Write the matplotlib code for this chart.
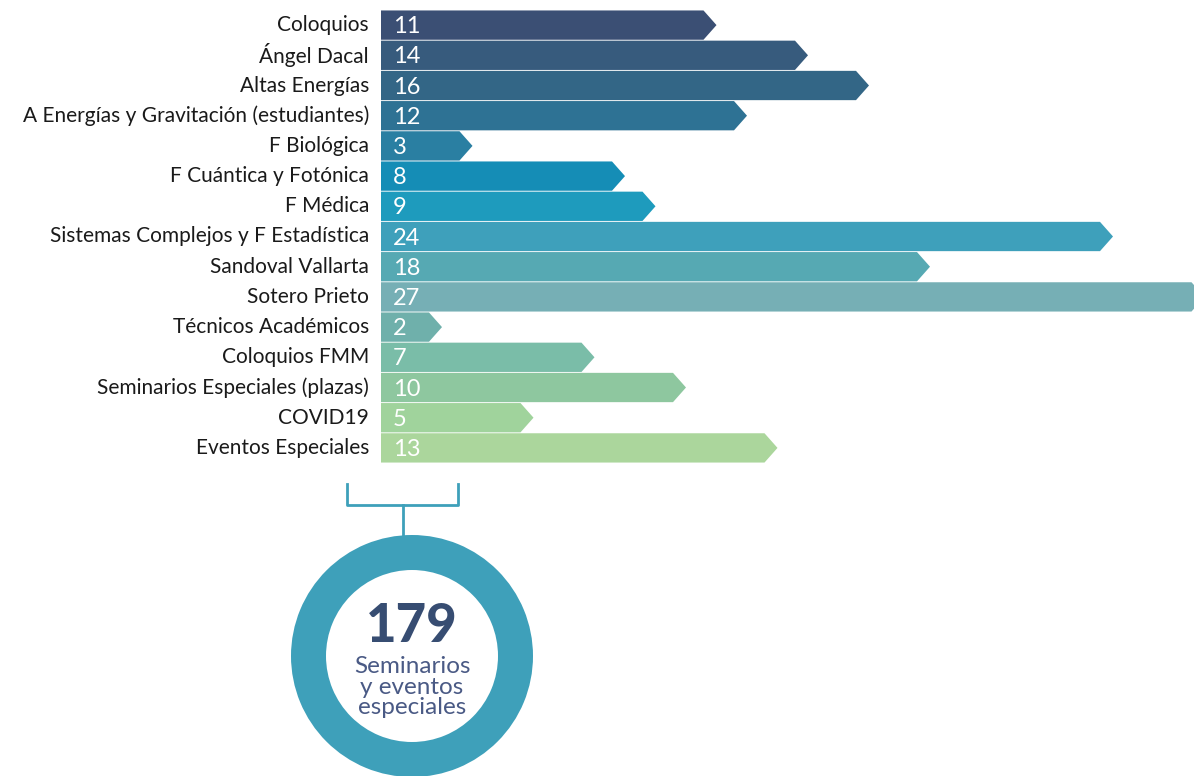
import matplotlib
matplotlib.use('Agg')
import matplotlib.pyplot as plt
from matplotlib.patches import Polygon, Wedge

categories = ['Coloquios', 'Ángel Dacal', 'Altas Energías',
              'A Energías y Gravitación (estudiantes)', 'F Biológica',
              'F Cuántica y Fotónica', 'F Médica',
              'Sistemas Complejos y F Estadística', 'Sandoval Vallarta',
              'Sotero Prieto', 'Técnicos Académicos', 'Coloquios FMM',
              'Seminarios Especiales (plazas)', 'COVID19', 'Eventos Especiales']
values = [11, 14, 16, 12, 3, 8, 9, 24, 18, 27, 2, 7, 10, 5, 13]
colors = ['#3b4f74', '#375b7d', '#336686', '#2e7294', '#2a7fa2',
          '#158db6', '#1e9bbd', '#3ea0bb', '#56a9b3', '#76afb5',
          '#6fb0ab', '#7abda8', '#8ec79f', '#a0d39c', '#abd69c']
total_caption = 'Seminarios\ny eventos\nespeciales'

plt.rcParams['font.family'] = ['Lato', 'DejaVu Sans']

W, H = 1194, 776
fig = plt.figure(figsize=(W / 100, H / 100), dpi=100)

# bar area, in pixels: x 381..1194, y 10..463
ax = fig.add_axes([381 / W, 1 - 463 / H, (W - 381) / W, (463 - 10) / H])
ax.set_xlim(0, (W - 381) / 30.5)
ax.set_ylim(len(values), 0)
ax.axis('off')

head = 13 / 30.5  # arrow head length in data units
h = 0.97
for i, (v, c) in enumerate(zip(values, colors)):
    top, bot = i + (1 - h) / 2, i + (1 + h) / 2
    body = max(v - head, 0)
    pts = [(0, top), (body, top), (v, i + 0.5), (body, bot), (0, bot)]
    ax.add_patch(Polygon(pts, closed=True, facecolor=c, edgecolor='none'))
    ax.annotate(str(v), (0, i + 0.55), xytext=(12, 0), textcoords='offset pixels',
                ha='left', va='center', color='white', fontsize=17)
    ax.annotate(categories[i], (0, i + 0.5), xytext=(-12, 0), textcoords='offset pixels',
                ha='right', va='center', color='#1a1a1a', fontsize=15,
                annotation_clip=False)

# overlay in pixel coordinates for bracket and ring
ov = fig.add_axes([0, 0, 1, 1], zorder=-1)
ov.set_xlim(0, W)
ov.set_ylim(H, 0)
ov.axis('off')

ring_col = '#3ea0ba'
ov.plot([347, 347, 458, 458], [484, 505, 505, 484], color=ring_col, lw=2)
ov.plot([403, 403], [505, 536], color=ring_col, lw=2)

cx, cy, r_out, r_in = 412, 656, 121, 86
ov.add_patch(Wedge((cx, cy), r_out, 0, 360, width=r_out - r_in,
                   facecolor=ring_col, edgecolor='none'))

ov.text(cx, 627, str(sum(values)), ha='center', va='center', fontsize=38,
        fontweight='black', color='#374d72')
ov.text(cx, 687, total_caption, ha='center', va='center', fontsize=17.5,
        color='#4a5a85', linespacing=0.95)

fig.savefig('out.png', dpi=100)
